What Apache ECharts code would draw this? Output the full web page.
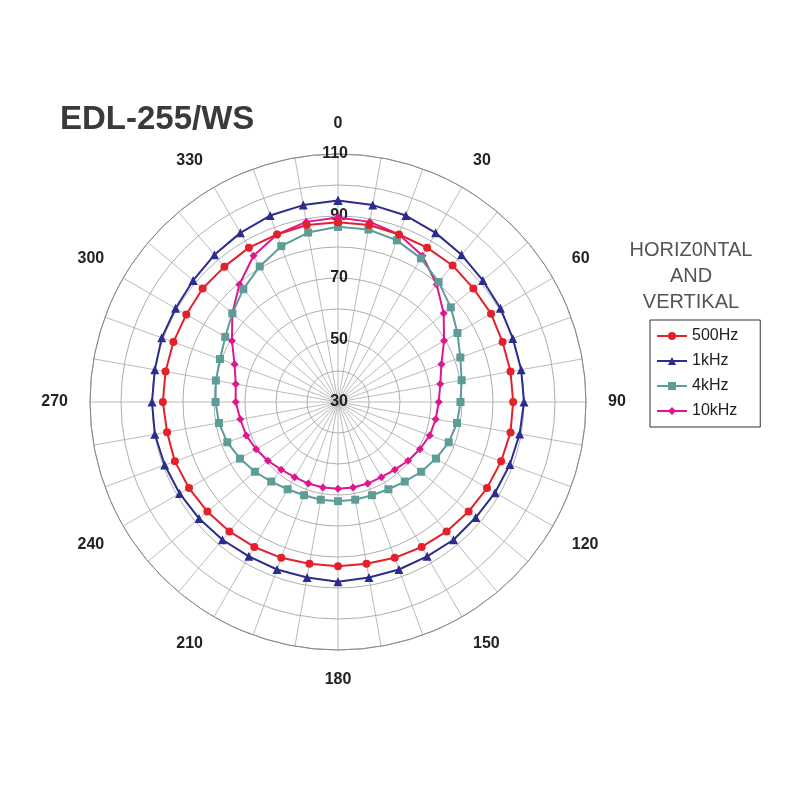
<!DOCTYPE html>
<html><head><meta charset="utf-8">
<script src="https://cdn.jsdelivr.net/npm/echarts@6/dist/echarts.min.js"></script>
<style>html,body{margin:0;background:#fff}#c{width:800px;height:800px}</style>
</head><body><div id="c"></div>
<script>
const angles = Array.from({length:36},(_, i)=>i*10);
const s500 = [88,88,87.5,87.5,87.5,87,87,86.5,86.5,86.5,86.5,86,85.5,85,84.5,84,83.5,83,83,83,83.5,84,84.5,85,85.5,86,86,86.5,86.5,86.5,86.5,87,87,87.5,87.5,88];
const s1k = [95,94.5,94,93,92,91,90.5,90,90,90,89.5,89,88.5,88,88,87.5,87.5,87.5,88,87.5,87.5,87.5,88,88.5,89,89.5,90,90,90,90.5,90.5,91,92,93,94,94.5];
const s4k = [86.5,86.5,85.5,83.5,80.5,77.5,74.5,72,70.5,69.5,69,68,66.5,65,63.5,62.5,62,62,62,62,62,62.5,63.5,65,66.5,68,69,69.5,70,70.5,72,74.5,77.5,80.5,83.5,85.5];
const s10k = [89.5,89,87.5,84.5,79.5,74.5,69.5,65.5,63.5,62.5,62,61.5,60.5,59.5,58.5,58,58,58,58,58,58,58,58.5,59.5,60.5,61.5,62,63,63.5,65.5,69.5,74.5,79.5,84.5,87.5,89];
const names = ['500Hz','1kHz','4kHz','10kHz'];
const colors = ['#e3202b','#2b2c8c','#5e9c98','#e0168f'];
const symbols = ['circle','triangle','rect','diamond'];
const all = [s500,s1k,s4k,s10k];
const close = a => a.map((v,i)=>[v,angles[i]]).concat([[a[0],360]]);
const chart = echarts.init(document.getElementById('c'));
chart.setOption({
  animation:false,
  title:[{text:'EDL-255/WS',left:55,top:98,textStyle:{fontFamily:'Liberation Sans',fontSize:33,fontWeight:'bold',color:'#3a3a3a'}},
    {text:'HORIZ0NTAL\nAND\nVERTIKAL',left:686,top:232,textAlign:'center',textStyle:{fontFamily:'Liberation Sans',fontSize:20,fontWeight:'normal',color:'#555',lineHeight:26}}],
  legend:{orient:'vertical',left:650,top:320,width:110,itemGap:9,borderColor:'#333',borderWidth:1,padding:[8,22,8,6],
    textStyle:{fontFamily:'Liberation Sans',fontSize:16,color:'#222'},itemWidth:30,itemHeight:10,data:names},
  polar:{center:[338,402],radius:248},
  angleAxis:{type:'value',min:0,max:360,interval:10,startAngle:90,clockwise:true,
    axisLine:{lineStyle:{color:'#888'}},axisTick:{show:false},
    axisLabel:{margin:22,fontFamily:'Liberation Sans',fontSize:16,fontWeight:'bold',color:'#222',
      formatter:v=>(v%30===0&&v<360)?String(v):''},
    splitLine:{lineStyle:{color:'#aaa',width:0.8}}},
  radiusAxis:{type:'value',min:30,max:110,interval:10,
    axisLine:{show:false},axisTick:{show:false},
    axisLabel:{fontFamily:'Liberation Sans',fontSize:16,fontWeight:'bold',color:'#222',margin:-10,
      formatter:v=>((v-30)%20===0)?String(v):''},
    splitLine:{lineStyle:{color:'#999',width:0.8}}},
  series:all.map((a,k)=>({name:names[k],type:'line',coordinateSystem:'polar',data:close(a),
    symbol:symbols[k],symbolSize:k===1?9:8,color:colors[k],lineStyle:{width:2,color:colors[k]},
    itemStyle:{color:colors[k]},z:10-k}))
});
</script></body></html>
